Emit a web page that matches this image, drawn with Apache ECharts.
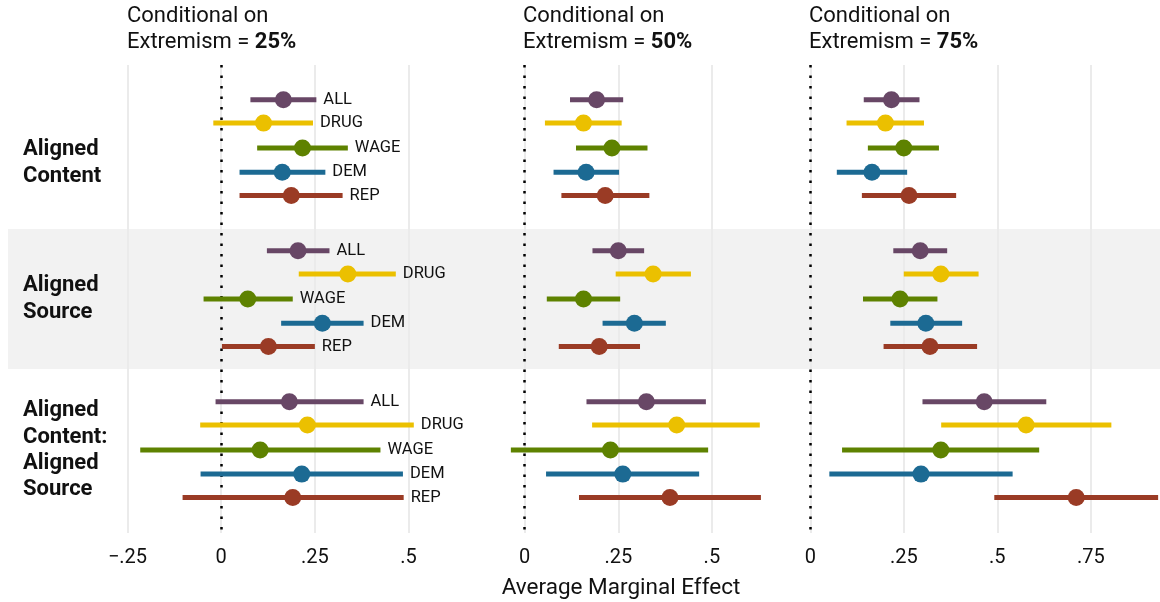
<!DOCTYPE html>
<html>
<head>
<meta charset="utf-8">
<title>Average Marginal Effect by Extremism</title>
<script src="https://cdn.jsdelivr.net/npm/echarts@6/dist/echarts.min.js"></script>
<style>
  html, body { margin: 0; padding: 0; background: #fff; }
  #chart { width: 1160px; height: 602px; }
</style>
</head>
<body>
<div id="chart"></div>
<script>
// Issue categories, drawn top to bottom inside each treatment row
const CATEGORIES = ['ALL', 'DRUG', 'WAGE', 'DEM', 'REP'];
// Treatment rows
const TREATMENTS = ['Aligned\nContent', 'Aligned\nSource', 'Aligned\nContent:\nAligned\nSource'];
// Extremism levels, one panel each
const EXTREMISM = ['25%', '50%', '75%'];

// Estimates and 95% intervals, rows ordered Content / Source / Content:Source,
// each row listing ALL, DRUG, WAGE, DEM, REP
const EST_25 = [0.166, 0.113, 0.217, 0.163, 0.187,
                0.205, 0.338, 0.071, 0.270, 0.126,
                0.182, 0.230, 0.104, 0.215, 0.191];
const LOW_25 = [0.078, -0.021, 0.096, 0.049, 0.049,
                0.122, 0.207, -0.047, 0.160, 0.002,
                -0.015, -0.056, -0.216, -0.055, -0.103];
const HIGH_25 = [0.254, 0.245, 0.338, 0.278, 0.324,
                 0.289, 0.466, 0.191, 0.380, 0.250,
                 0.380, 0.514, 0.425, 0.485, 0.487];

const EST_50 = [0.192, 0.157, 0.233, 0.164, 0.215,
                0.250, 0.343, 0.157, 0.293, 0.199,
                0.325, 0.406, 0.229, 0.262, 0.388];
const LOW_50 = [0.121, 0.054, 0.137, 0.077, 0.098,
                0.181, 0.243, 0.059, 0.208, 0.091,
                0.165, 0.180, -0.037, 0.057, 0.145];
const HIGH_50 = [0.263, 0.259, 0.328, 0.252, 0.333,
                 0.319, 0.444, 0.255, 0.377, 0.308,
                 0.484, 0.628, 0.490, 0.466, 0.631];

const EST_75 = [0.217, 0.201, 0.250, 0.165, 0.264,
                0.294, 0.349, 0.240, 0.309, 0.320,
                0.465, 0.577, 0.349, 0.296, 0.711];
const LOW_75 = [0.143, 0.097, 0.154, 0.071, 0.138,
                0.222, 0.250, 0.141, 0.214, 0.196,
                0.300, 0.350, 0.085, 0.051, 0.492];
const HIGH_75 = [0.292, 0.304, 0.344, 0.259, 0.390,
                 0.366, 0.450, 0.340, 0.406, 0.446,
                 0.631, 0.805, 0.612, 0.541, 0.930];

// Tick values shown on each panel's x axis
const TICKS_25 = [-0.25, 0, 0.25, 0.5];
const TICKS_50 = [0, 0.25, 0.5];
const TICKS_75 = [0, 0.25, 0.5, 0.75];

// Visual settings
const COLORS = ['#684766', '#EBC000', '#5E8200', '#1C6A93', '#9A3B25'];
const DODGE = [-0.32, -0.165, 0, 0.16, 0.315];     // vertical offset of each category within a row
const ROW_LABEL_POS = [0.099, 1.0, 2.003];         // vertical anchor of each row label
const BAND = [0.536, 1.464];                       // shaded extent of the middle row
const Y_RANGE = [-0.55, 2.55];
const FONT = 'Roboto, "Noto Sans", sans-serif';
const INK = '#111111';

const PLOT_TOP = 65, PLOT_HEIGHT = 468;

const panels = [
  { est: EST_25, low: LOW_25, high: HIGH_25, ticks: TICKS_25, min: -0.27, max: 0.72, left: 120, width: 371, labels: true },
  { est: EST_50, low: LOW_50, high: HIGH_50, ticks: TICKS_50, min: -0.05, max: 0.69, left: 506, width: 277, labels: false },
  { est: EST_75, low: LOW_75, high: HIGH_75, ticks: TICKS_75, min: -0.04, max: 0.935, left: 795.3, width: 365.7, labels: false }
];

function tickLabel(v) {
  if (v === 0) return '0';
  const s = String(Math.abs(v)).replace(/^0/, '');
  return (v < 0 ? '\u2212' : '') + s;
}

function panelData(p) {
  const rows = [];
  for (let g = 0; g < TREATMENTS.length; g++) {
    for (let c = 0; c < CATEGORIES.length; c++) {
      const i = g * CATEGORIES.length + c;
      rows.push([p.low[i], p.est[i], p.high[i], g + DODGE[c], c]);
    }
  }
  return rows;
}

function makeRenderer(withLabels) {
  return function (params, api) {
    const y = api.value(3);
    const c = api.value(4);
    const lo = api.coord([api.value(0), y]);
    const pt = api.coord([api.value(1), y]);
    const hi = api.coord([api.value(2), y]);
    const color = COLORS[c];
    const children = [
      { type: 'line', shape: { x1: lo[0], y1: lo[1], x2: hi[0], y2: hi[1] },
        style: { stroke: color, lineWidth: 5, lineCap: 'butt' } },
      { type: 'circle', shape: { cx: pt[0], cy: pt[1], r: 8.5 }, style: { fill: color } }
    ];
    if (withLabels) {
      children.push({
        type: 'text', x: hi[0] + 7, y: hi[1],
        style: { text: CATEGORIES[c], fill: INK, font: '16.5px ' + FONT,
                 textAlign: 'left', textVerticalAlign: 'middle' }
      });
    }
    return { type: 'group', children: children };
  };
}

const grid = [{ left: 8, right: 0, top: PLOT_TOP, height: PLOT_HEIGHT }];
const xAxis = [{ gridIndex: 0, type: 'value', min: 0, max: 1, show: false }];
const yAxis = [{ gridIndex: 0, type: 'value', min: Y_RANGE[0], max: Y_RANGE[1], inverse: true, show: false }];
const series = [
  {
    // shaded band behind the middle treatment row
    type: 'scatter', xAxisIndex: 0, yAxisIndex: 0, data: [], silent: true, z: 0,
    markArea: {
      silent: true, z: 0,
      itemStyle: { color: '#F2F2F2' },
      data: [[{ yAxis: BAND[0] }, { yAxis: BAND[1] }]]
    }
  },
  {
    // treatment row labels
    type: 'scatter', xAxisIndex: 0, yAxisIndex: 0, silent: true, z: 5,
    symbolSize: 0,
    itemStyle: { opacity: 1 },
    data: ROW_LABEL_POS.map(function (y) { return [0, y]; }),
    label: {
      show: true, position: 'right', distance: 15,
      formatter: function (p) { return TREATMENTS[p.dataIndex]; },
      fontFamily: FONT, fontSize: 22, fontWeight: 'bold', color: INK, opacity: 1,
      lineHeight: 26.3, align: 'left', verticalAlign: 'middle'
    }
  }
];

const titles = [];
const titleLefts = [127, 523, 809];

panels.forEach(function (p, k) {
  const gi = k + 1;
  grid.push({ left: p.left, width: p.width, top: PLOT_TOP, height: PLOT_HEIGHT });
  xAxis.push({
    gridIndex: gi, type: 'value', min: p.min, max: p.max,
    axisLine: { show: false }, axisTick: { show: false }, splitLine: { show: false },
    axisLabel: {
      customValues: p.ticks, formatter: tickLabel, margin: 15,
      fontFamily: FONT, fontSize: 20, color: INK
    }
  });
  yAxis.push({ gridIndex: gi, type: 'value', min: Y_RANGE[0], max: Y_RANGE[1], inverse: true, show: false });

  // reference grid lines
  series.push({
    type: 'scatter', xAxisIndex: gi, yAxisIndex: gi, data: [], silent: true, z: 1,
    markLine: {
      silent: true, z: 1, symbol: 'none', label: { show: false },
      lineStyle: { color: '#EBEBEB', width: 2, type: 'solid' },
      data: p.ticks.map(function (v) { return { xAxis: v }; })
    }
  });
  // dotted zero line
  series.push({
    type: 'scatter', xAxisIndex: gi, yAxisIndex: gi, data: [], silent: true, z: 2,
    markLine: {
      silent: true, z: 2, symbol: 'none', label: { show: false },
      lineStyle: { color: '#000000', width: 2.5, type: [2.5, 8], cap: 'butt' },
      data: [{ xAxis: 0 }]
    }
  });
  // intervals, point estimates and category labels
  series.push({
    type: 'custom', xAxisIndex: gi, yAxisIndex: gi, z: 10, clip: true, silent: true,
    renderItem: makeRenderer(p.labels),
    encode: { x: [0, 1, 2], y: 3 },
    data: panelData(p)
  });

  titles.push({
    left: titleLefts[k], top: 3, padding: 0,
    text: 'Conditional on\nExtremism = {b|' + EXTREMISM[k] + '}',
    textStyle: {
      fontFamily: FONT, fontSize: 22, fontWeight: 'normal', color: INK, lineHeight: 26,
      rich: { b: { fontFamily: FONT, fontSize: 22, fontWeight: 'bold', color: INK, lineHeight: 26 } }
    }
  });
});

const chart = echarts.init(document.getElementById('chart'), null, { renderer: 'canvas' });
chart.setOption({
  backgroundColor: '#ffffff',
  animation: false,
  title: titles,
  grid: grid,
  xAxis: xAxis,
  yAxis: yAxis,
  series: series,
  graphic: [{
    type: 'text', x: 621, y: 588, silent: true,
    style: { text: 'Average Marginal Effect', font: '22.5px ' + FONT, fill: INK,
             textAlign: 'center', textVerticalAlign: 'middle' }
  }]
});
</script>
</body>
</html>
